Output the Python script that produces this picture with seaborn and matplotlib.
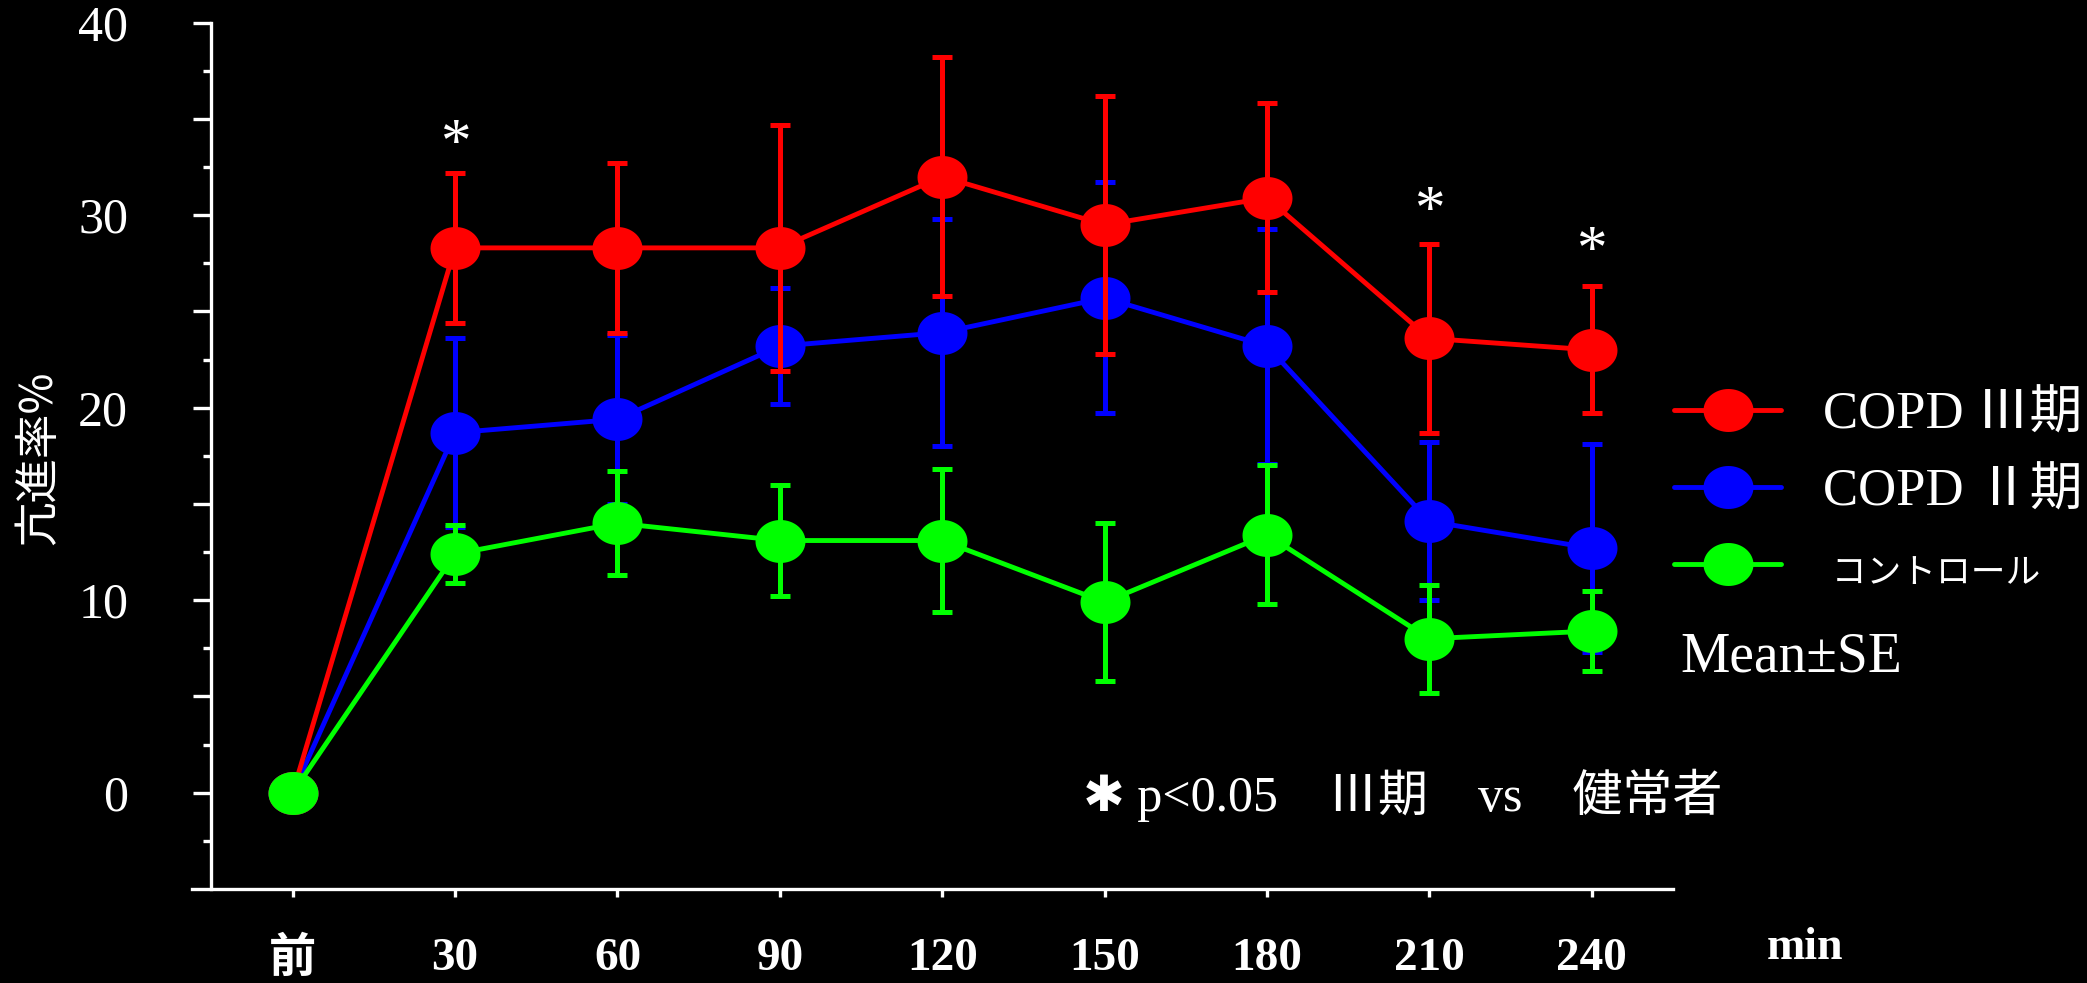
import numpy as np
import pandas as pd
import matplotlib
matplotlib.use("Agg")
import matplotlib.pyplot as plt
import seaborn as sns
from matplotlib.path import Path
from matplotlib.lines import Line2D
from matplotlib.ticker import FixedLocator
from matplotlib.font_manager import FontProperties

# ---------------- data ----------------
categories = ['前', '30', '60', '90', '120', '150', '180', '210', '240']
copd3_mean = [0, 28.3, 28.3, 28.3, 32.0, 29.5, 30.9, 23.6, 23.0]
copd3_se = [0, 3.9, 4.4, 6.4, 6.2, 6.7, 4.9, 4.9, 3.3]
copd2_mean = [0, 18.7, 19.4, 23.2, 23.9, 25.7, 23.2, 14.1, 12.7]
copd2_se = [0, 4.9, 4.4, 3.0, 5.9, 6.0, 6.1, 4.1, 5.4]
ctrl_mean = [0, 12.4, 14.0, 13.1, 13.1, 9.9, 13.4, 8.0, 8.4]
ctrl_se = [0, 1.5, 2.7, 2.9, 3.7, 4.1, 3.6, 2.8, 2.1]
series_names = ['COPD Ⅲ期', 'COPD Ⅱ期', ' コントロール']
series_colors = ['#FF0000', '#0000FF', '#00FF00']
sig_index = [1, 7, 8]
sig_height = [34.4, 30.9, 28.8]
y_label = '亢進率%'
x_unit = 'min'
note_text = '✱ p<0.05　Ⅲ期　vs　健常者'
stat_text = 'Mean±SE'

rows = []
for name, m, s in zip(series_names, [copd3_mean, copd2_mean, ctrl_mean],
                      [copd3_se, copd2_se, ctrl_se]):
    for i, (mv, sv) in enumerate(zip(m, s)):
        rows.append({'group': name, 'pos': i, 'mean': mv, 'se': sv})
df = pd.DataFrame(rows)

# ---------------- style ----------------
sns.set_style('ticks', {'axes.facecolor': 'black', 'figure.facecolor': 'black',
                        'axes.edgecolor': 'white', 'xtick.color': 'white',
                        'ytick.color': 'white', 'text.color': 'white',
                        'axes.labelcolor': 'white'})
plt.rcParams['font.family'] = ['Liberation Serif', 'Noto Sans CJK JP', 'DejaVu Sans']

fig = plt.figure(figsize=(20.87, 9.83), dpi=100, facecolor='black')
ax = fig.add_axes([0.092, 0.0956, 0.7096, 0.8814])
ax.set_facecolor('black')

# elliptical marker
t = np.linspace(0, 2 * np.pi, 65)
verts = np.column_stack([np.cos(t), 0.86 * np.sin(t)])
codes = [Path.MOVETO] + [Path.LINETO] * (len(verts) - 2) + [Path.CLOSEPOLY]
ell = Path(verts, codes)
MS = 36

draw_order = [1, 0, 2]  # blue, red, green (green on top)
for z, gi in enumerate(draw_order):
    name = series_names[gi]
    col = series_colors[gi]
    sub = df[df['group'] == name]
    base = 3 + 2 * z
    eb = sub[sub['se'] > 0]
    ax.errorbar(eb['pos'], eb['mean'], yerr=eb['se'], fmt='none', ecolor=col,
                elinewidth=3.6, capsize=7.2, capthick=3.6, zorder=base)
    sns.lineplot(data=sub, x='pos', y='mean', color=col, marker=ell,
                 markersize=MS, markeredgewidth=0, linewidth=3.5, ax=ax,
                 legend=False, errorbar=None, sort=False)
    ax.lines[-1].set_zorder(base + 0.5)
    ax.lines[-1].set_clip_on(False)

for xi, yi in zip(sig_index, sig_height):
    ax.annotate('*', xy=(xi, yi), xytext=(0, -21), textcoords='offset points',
                ha='center', va='baseline', fontsize=44, color='white',
                family=['Liberation Serif'])

# axes cosmetics
ax.set_xlim(-0.62, 8.5)
ax.set_ylim(-5, 40)
sns.despine(ax=ax, top=True, right=True)
ax.spines['left'].set_position(('data', -0.5))
for sp in ['left', 'bottom']:
    ax.spines[sp].set_linewidth(2.4)
    ax.spines[sp].set_color('white')

yt = np.arange(0, 41, 5)
ax.set_yticks(yt)
ax.set_yticklabels([str(int(v)) if v % 10 == 0 else '' for v in yt])
ax.yaxis.set_minor_locator(FixedLocator(np.arange(-2.5, 40, 5)))
ax.tick_params(axis='y', which='major', length=13, width=2.4, colors='white',
               pad=47, labelsize=36)
ax.tick_params(axis='y', which='minor', length=6, width=2.4, colors='white')
ax.set_xticks(range(len(categories)))
ax.set_xticklabels(categories, fontweight='bold')
ax.tick_params(axis='x', length=6, width=2.4, colors='white', pad=29,
               labelsize=34)
ax.set_xlabel('')
ax.set_ylabel('')

fig.text(38 / 2087, 1 - 458 / 983, y_label, rotation=90, ha='center',
         va='center', fontsize=32, color='white',
         family=['Noto Sans CJK JP'])
fig.text(1805 / 2087, 1 - 948 / 983, x_unit, ha='center', va='center',
         fontsize=33, fontweight='bold', color='white')
fig.text(1680 / 2087, 1 - 657 / 983, stat_text, ha='left', va='center',
         fontsize=40, color='white')
fig.text(1083 / 2087, 1 - 795 / 983, note_text, ha='left', va='center',
         fontsize=36, color='white')

handles = [Line2D([], [], color=c, lw=3.5, marker=ell, markersize=MS,
                  markeredgewidth=0) for c in series_colors]
LFS = 38
leg = fig.legend(handles, series_names, loc='center left',
                 bbox_to_anchor=(1674 / 2087, 1 - 491 / 983), frameon=False,
                 borderpad=0, borderaxespad=0, handlelength=107 / (LFS * 100 / 72),
                 handletextpad=0.8, labelspacing=0.55,
                 prop=FontProperties(family=['Liberation Serif', 'Noto Sans CJK JP'],
                                     size=LFS))
for txt in leg.get_texts():
    txt.set_color('white')
leg.get_texts()[2].set_fontsize(25)

fig.savefig('out.png', dpi=100, facecolor='black')
